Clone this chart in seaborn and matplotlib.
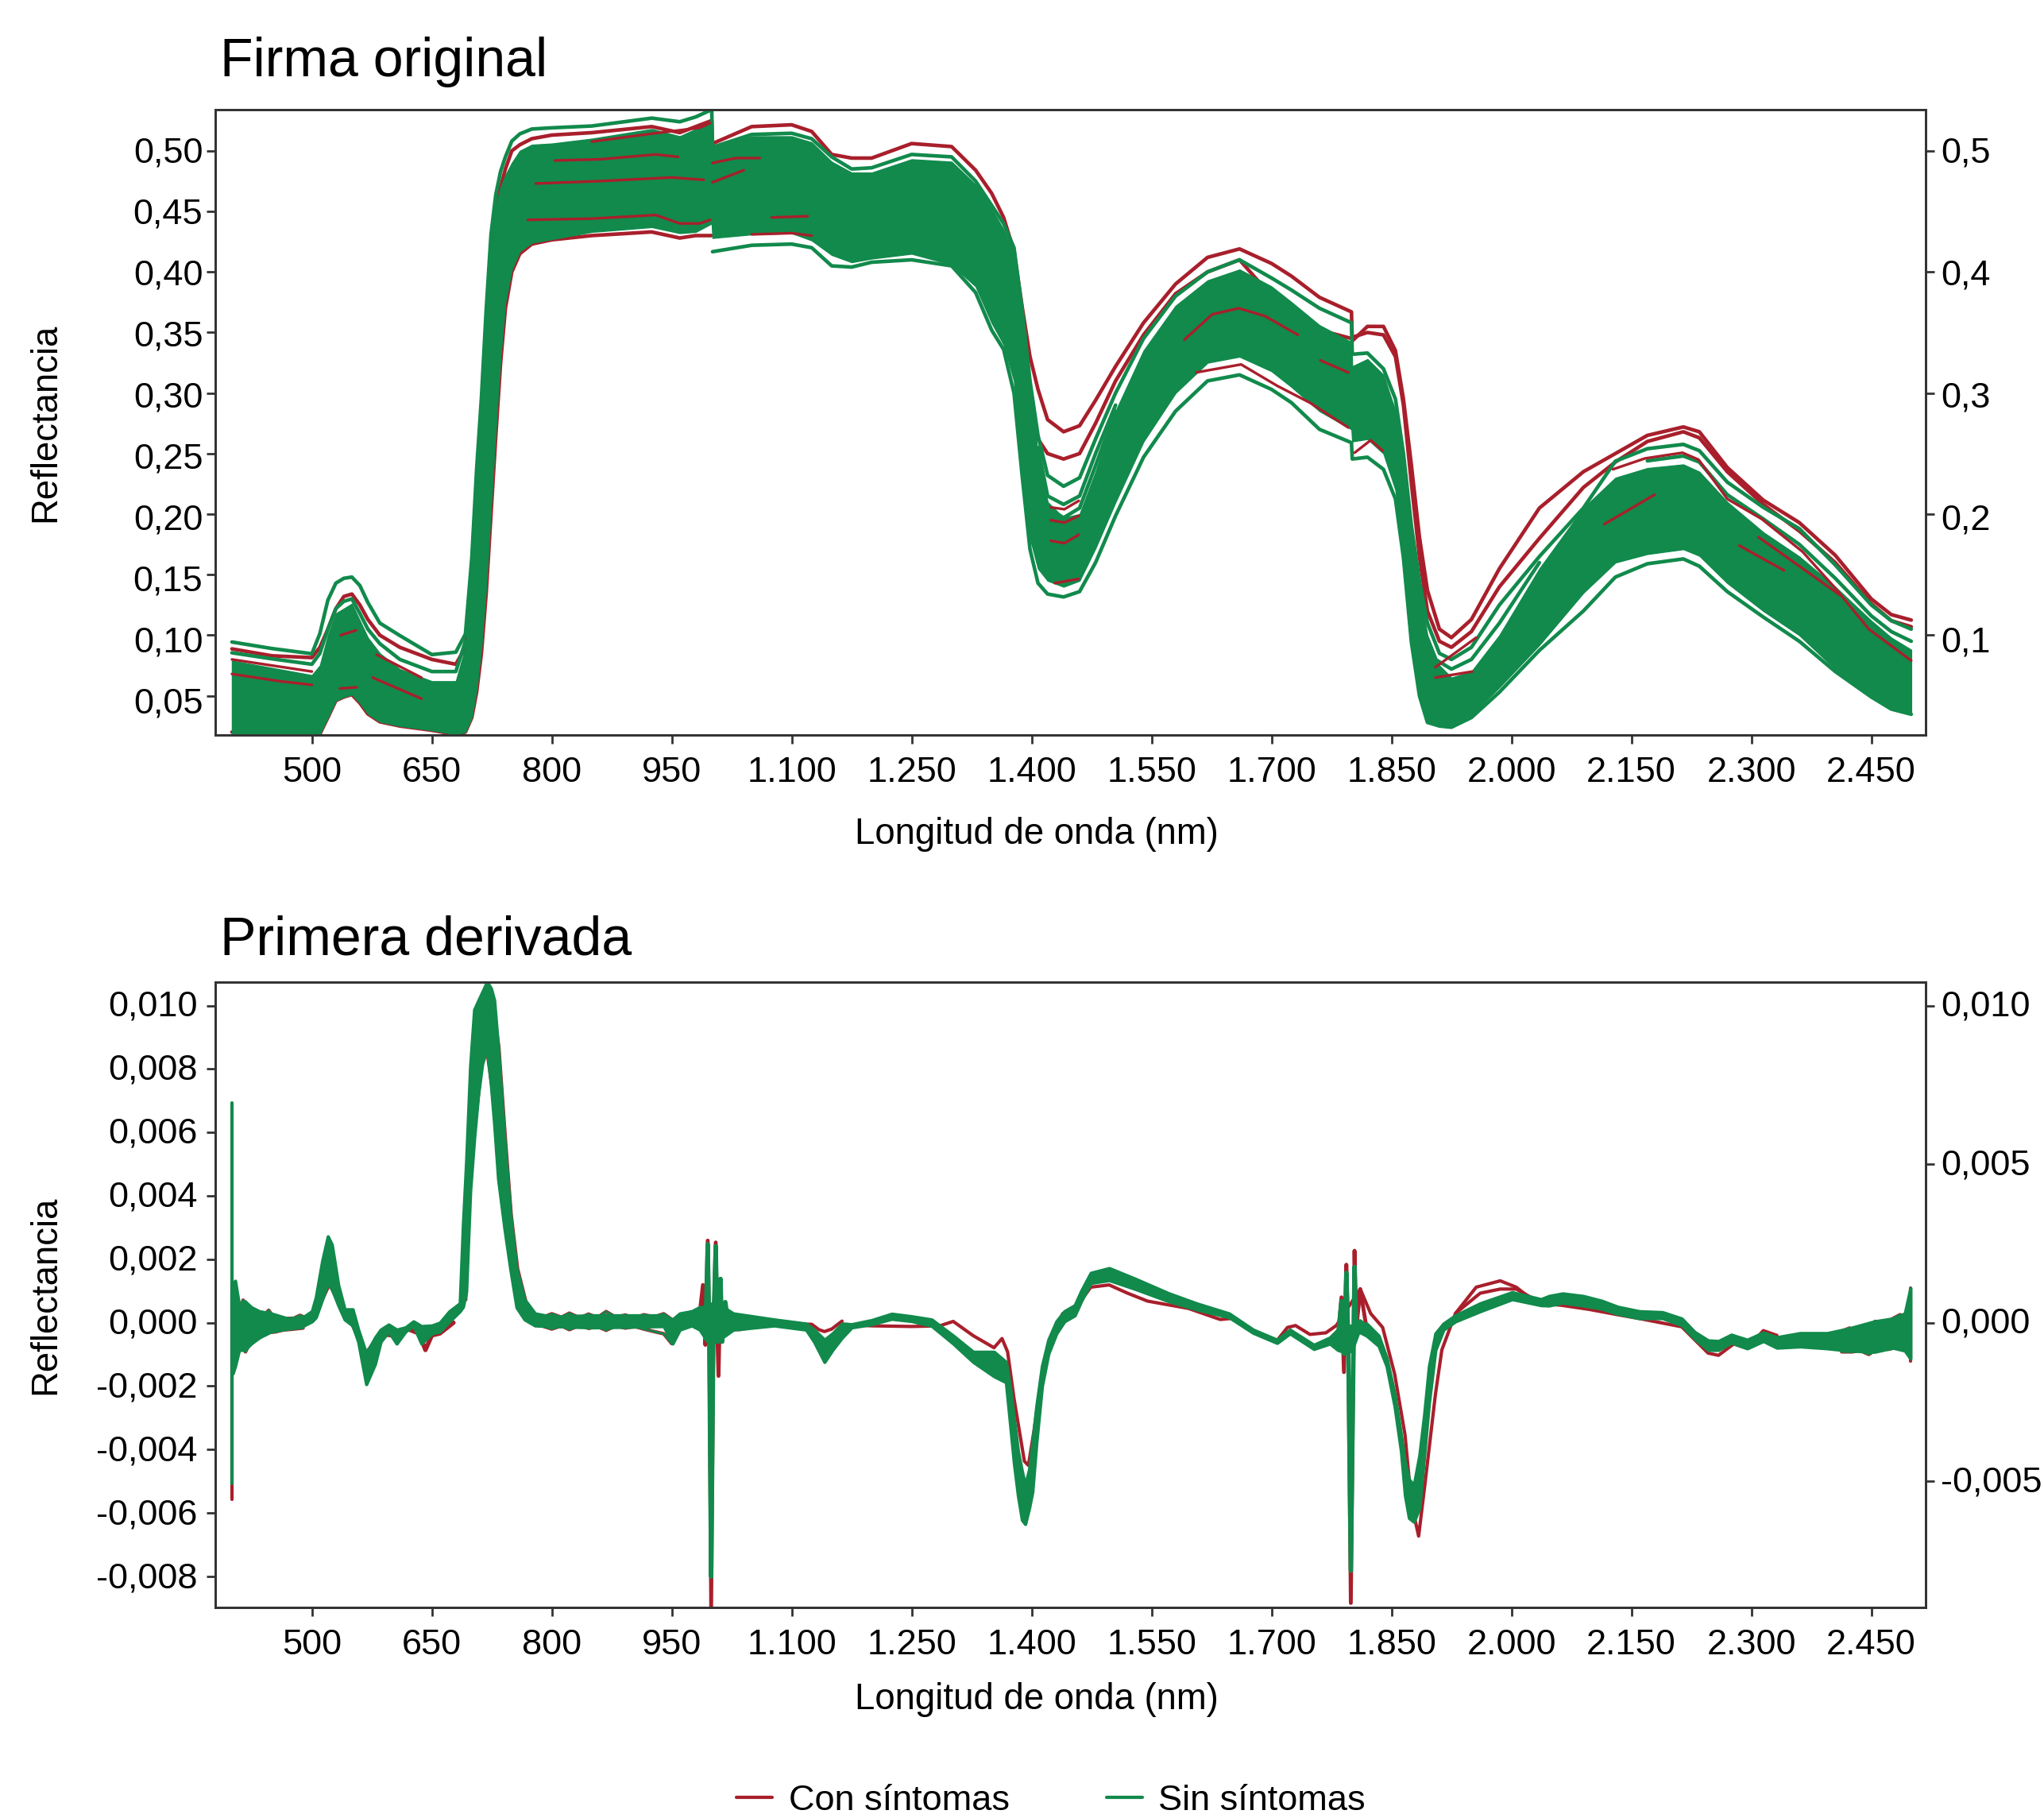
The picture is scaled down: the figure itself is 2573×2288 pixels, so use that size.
# spectral signatures, original and first derivative
import matplotlib
matplotlib.use("Agg")
import matplotlib.pyplot as plt
from matplotlib.lines import Line2D
from matplotlib.transforms import ScaledTranslation
import seaborn as sns

sns.set_theme(style="white")
plt.rcParams["font.family"] = ["Liberation Sans", "DejaVu Sans"]

RED = "#A81F2B"
GREEN = "#118A4C"

X_TICKS = [500, 650, 800, 950, 1100, 1250, 1400, 1550, 1700, 1850, 2000, 2150, 2300, 2450]
X_LABELS = ["500", "650", "800", "950", "1.100", "1.250", "1.400", "1.550", "1.700", "1.850",
            "2.000", "2.150", "2.300", "2.450"]
TOP_TICKS = [0.05, 0.10, 0.15, 0.20, 0.25, 0.30, 0.35, 0.40, 0.45, 0.50]
TOP_LABELS = ["0,05", "0,10", "0,15", "0,20", "0,25", "0,30", "0,35", "0,40", "0,45", "0,50"]
TOP_RIGHT_TICKS = [0.1, 0.2, 0.3, 0.4, 0.5]
TOP_RIGHT_LABELS = ["0,1", "0,2", "0,3", "0,4", "0,5"]
BOT_TICKS = [-0.008, -0.006, -0.004, -0.002, 0, 0.002, 0.004, 0.006, 0.008, 0.010]
BOT_LABELS = ["-0,008", "-0,006", "-0,004", "-0,002", "0,000", "0,002", "0,004", "0,006", "0,008", "0,010"]
BOT_RIGHT_TICKS = [-0.005, 0, 0.005, 0.010]
BOT_RIGHT_LABELS = ["-0,005", "0,000", "0,005", "0,010"]

# --- original signature ---
WL = [400, 450, 500, 510, 520, 530, 540, 550, 560, 570,
      585, 610, 650, 680, 692, 700, 706, 712, 718, 724,
      730, 736, 742, 750, 760, 775, 800, 850, 925, 960,
      980, 1000, 1001, 1050, 1100, 1125, 1150, 1175, 1200, 1250,
      1300, 1330, 1350, 1365, 1378, 1388, 1398, 1408, 1420, 1440,
      1460, 1480, 1505, 1540, 1580, 1620, 1660, 1700, 1725, 1760,
      1800, 1801, 1820, 1840, 1855, 1865, 1875, 1885, 1895, 1910,
      1925, 1950, 1985, 2035, 2090, 2130, 2170, 2215, 2235, 2270,
      2315, 2360, 2405, 2450, 2475, 2500]
BAND_LOW = [.018, .018, .018, .0185, .032, .046, .049, .051, .044, .035,
            .0285, .025, .0215, .018, .02, .032, .055, .09, .14, .205,
            .27, .33, .375, .402, .417, .424, .427, .433, .437, .432,
            .433, .44, .428, .431, .432, .426, .414, .408, .411, .415,
            .406, .388, .358, .34, .31, .24, .18, .155, .145, .14,
            .145, .172, .21, .26, .30, .325, .33, .318, .305, .285,
            .27, .26, .262, .25, .22, .17, .10, .055, .03, .026,
            .026, .034, .057, .092, .135, .16, .167, .171, .1656, .143,
            .12, .10, .072, .05, .04, .035]
BAND_HIGH = [.079, .073, .067, .075, .10, .118, .122, .126, .112, .098,
             .085, .072, .062, .062, .09, .155, .22, .28, .35, .42,
             .455, .47, .48, .49, .50, .505, .506, .51, .518, .512,
             .518, .525, .503, .512, .512, .507, .491, .482, .482, .493,
             .491, .472, .452, .435, .415, .36, .30, .25, .21, .197,
             .20, .235, .285, .335, .372, .393, .402, .388, .375, .356,
             .342, .322, .328, .315, .285, .245, .18, .135, .10, .075,
             .065, .07, .10, .155, .205, .23, .238, .241, .235, .21,
             .185, .165, .14, .112, .098, .088]
G_TOP = [.0944, .089, .0847, .1014, .129, .143, .147, .148, .141, .127,
         .11, .0997, .084, .086, .101, .164, .237, .296, .369, .431,
         .464, .483, .495, .508, .514, .518, .519, .5205, .527, .524,
         .528, .534, .503, .5135, .5145, .51, .495, .485, .486, .497,
         .495, .475, .455, .44, .42, .37, .31, .265, .232, .223,
         .23, .262, .30, .345, .38, .40, .41, .395, .385, .37,
         .358, .332, .333, .32, .295, .25, .19, .145, .11, .085,
         .08, .09, .125, .165, .205, .2437, .254, .2576, .2524, .2264,
         .2056, .188, .158, .125, .112, .105]
R_TOP = [.0887, .083, .0815, .09, .105, .122, .132, .134, .125, .113,
         .10, .09, .08, .076, .09, .15, .21, .27, .34, .40,
         .45, .47, .485, .50, .505, .51, .513, .515, .52, .515,
         .52, .525, .506, .52, .5215, .516, .497, .494, .494, .506,
         .5035, .484, .465, .445, .417, .372, .33, .303, .278, .268,
         .273, .294, .322, .358, .39, .412, .419, .407, .3965, .379,
         .367, .343, .355, .355, .335, .295, .24, .181, .137, .105,
         .098, .113, .155, .205, .235, .25, .265, .272, .268, .2385,
         .2115, .193, .166, .13, .117, .1125]
# these three only cover part of WL
R_LOW = [.02, .019, .018, .0185, .032, .046, .049, .051, .044, .035,
         .0285, .025, .0215, .018, .02, .032, .053, .085, .135, .20,
         .265, .325, .37, .40, .415, .423, .4265, .43, .433, .428,
         .43, .43]
G_LOW = [.4167, .422, .423, .42, .405, .404, .408, .41,
         .405, .383, .352, .336, .30, .233, .171, .143, .134, .1316,
         .136, .16, .1986, .247, .285, .31, .315, .303, .292, .27,
         .259, .2455, .247, .237, .2125, .164, .094, .05, .028, .025,
         .024, .032, .053, .0875, .12, .148, .159, .163, .157, .136,
         .115, .095, .07, .049, .039, .0347]
R_SECOND = [.405, .35, .295, .262, .25, .2455,
            .25, .275, .31, .348, .382, .40, .41, .38, .37, .352,
            .345, .346, .35, .348, .33, .29, .225, .165, .12, .095,
            .09, .103, .14, .18, .222, .243, .26, .268, .263, .235,
            .208, .186, .16, .126, .112, .107]

# extra green lines that sit between the outliers and the dense bundle
STRIPE_WL = [[400, 450, 500, 510, 520, 530, 540, 550, 560, 570, 585, 610, 650, 680, 692],
             [1408, 1420, 1440, 1460, 1480, 1505],
             [1408, 1420, 1440, 1460, 1480, 1505],
             [1905, 1925, 1950, 1985, 2035],
             [2170, 2215, 2235, 2270, 2315, 2360, 2405, 2450, 2475, 2500]]
STRIPE_VAL = [[.0855, .0805, .076, .085, .105, .122, .128, .13, .118, .105, .093, .08, .07, .07, .095],
              [.255, .215, .208, .215, .25, .29],
              [.245, .205, .197, .205, .24, .285],
              [.08, .072, .08, .11, .16],
              [.244, .248, .243, .216, .196, .175, .147, .116, .103, .095]]

# red lines that show through the green bundle
STREAK_WL = [[804, 860, 930, 958], [850, 930, 985, 998], [780, 860, 950, 990],
             [770, 850, 930, 960, 985, 998], [1001, 1030, 1060], [1001, 1040],
             [1075, 1120], [1050, 1100, 1125], [400, 460, 500], [400, 450, 500], [535, 556],
             [536, 555], [581, 637], [576, 637], [1424, 1441, 1459],
             [1424, 1441, 1459], [1424, 1441, 1459], [1429, 1459],
             [1591, 1626, 1659, 1692, 1733], [1761, 1796],
             [1606, 1662, 1707, 1748, 1796], [1804, 1824, 1839], [1905, 1956],
             [1905, 1951], [2116, 2179], [2285, 2341], [2309, 2412],
             [2127, 2167, 2214, 2234, 2270, 2313, 2364, 2404, 2447, 2500]]
STREAK_VAL = [[.492, .493, .497, .495], [.5076, .5146, .519, .523], [.473, .475, .478, .476],
              [.443, .444, .447, .44, .44, .443], [.49, .494, .494], [.474, .484],
              [.445, .446], [.431, .432, .43], [.068, .062, .059], [.08, .075, .07], [.056, .057],
              [.10, .104], [.084, .065], [.065, .0476], [.178, .176, .183],
              [.195, .193, .1986], [.2056, .204, .211], [.143, .1465],
              [.344, .365, .37, .3635, .348], [.327, .317],
              [.317, .3236, .306, .292, .2715], [.2507, .261, .2524], [.0736, .098],
              [.065, .07], [.1917, .216], [.174, .1535], [.181, .1326],
              [.237, .246, .2507, .245, .2125, .196, .169, .1396, .105, .079]]

# --- first derivative ---
D_WL = [401, 404, 409, 416, 424, 434, 449, 470, 490, 500,
        505, 513, 520, 525, 533, 541, 551, 558, 568, 579,
        586, 596, 606, 617, 627, 637, 650, 660, 672, 685,
        689, 693, 698, 703, 708, 713, 719, 724, 728, 733,
        741, 748, 756, 766, 779, 800, 850, 900, 940, 951,
        960, 975, 985, 995, 1005, 1017, 1027, 1078, 1118, 1128,
        1141, 1151, 1163, 1175, 1200, 1225, 1250, 1275, 1302, 1327,
        1353, 1368, 1373, 1378, 1383, 1388, 1392, 1397, 1401, 1406,
        1413, 1421, 1431, 1441, 1454, 1462, 1474, 1497, 1530, 1571,
        1606, 1647, 1677, 1707, 1723, 1753, 1773, 1783, 1790, 1800,
        1809, 1819, 1834, 1844, 1854, 1862, 1867, 1872, 1878, 1885,
        1891, 1897, 1905, 1915, 1930, 1961, 2001, 2037, 2047, 2064,
        2090, 2113, 2133, 2160, 2189, 2213, 2229, 2246, 2259, 2275,
        2295, 2315, 2332, 2361, 2395, 2421, 2454, 2477, 2492, 2499]
D_HIGH = [.0012, .00132, .00055, .00068, .00049, .00036, .00029, .00013, .00019, .00036,
          .0008, .00195, .00272, .00246, .00119, .00042, .00042, -.00022, -.00098, -.00047,
          -.00022, -.00006, -.00022, -.00015, .00004, -.00011, -.00009, 0, .00036, .00061,
          .0031, .00507, .00808, .00987, .01015, .01042, .01075, .01054, .01017, .00866,
          .00574, .00348, .00169, .00073, .00029, .00019, .00023, .00023, .00023, .0001,
          .00029, .00036, .00049, .0005, .0007, .00045, .00029, .0001, -.00003, -.00022,
          -.00054, -.00034, -.00003, -.00005, .00008, .00028, .0002, .0001, -.00041, -.00092,
          -.00092, -.00124, -.002, -.00303, -.00405, -.00469, -.00513, -.00462, -.00379, -.00264,
          -.00137, -.00054, .00004, .00036, .00055, .001, .00157, .00172, .00138, .00093,
          .00061, .00029, -.00022, -.00054, -.00022, -.0007, -.00047, -.00022, -.00009, -.0001,
          -.00003, -.00003, -.00041, -.00111, -.00226, -.00354, -.00443, -.00494, -.00513, -.00418,
          -.0029, -.00137, -.00034, -.00003, .00023, .00061, .00096, .00074, .00084, .00092,
          .00084, .00069, .0005, .00036, .00033, .00013, -.00029, -.00056, -.00058, -.00038,
          -.00054, -.00031, -.00046, -.00033, -.00033, -.00019, .00004, .00013, .00029, .00109]
D_LOW = [-.0016, -.00137, -.00086, -.00086, -.00066, -.00047, -.00028, -.00019, -.00009, .00004,
         .00017, .00074, .00125, .00106, .00055, .0001, -.00009, -.0006, -.00194, -.0013,
         -.0006, -.00028, -.00066, -.00028, -.00009, -.00066, -.00034, -.00028, .00004, .00036,
         .0005, .00098, .00415, .00582, .0072, .00816, .00866, .00749, .00629, .00453,
         .00295, .00173, .00048, .0001, -.00009, -.00011, -.00015, -.00013, -.00011, -.00066,
         -.00022, -.00009, -.00022, -.0006, -.0006, -.0004, -.00022, -.00009, -.00022, -.0006,
         -.00124, -.00086, -.00047, -.00015, -.00005, .00012, .00005, -.0001, -.00066, -.00124,
         -.00169, -.00188, -.00315, -.00443, -.00545, -.00622, -.00635, -.00584, -.00533, -.00379,
         -.002, -.00098, -.00034, .00004, .00023, .00068, .00125, .00134, .00106, .00068,
         .00042, .00017, -.00032, -.00064, -.00034, -.00083, -.00066, -.00086, -.00092, -.0009,
         -.00028, -.00041, -.00073, -.00137, -.00264, -.00405, -.00545, -.00616, -.00628, -.00584,
         -.00418, -.00252, -.00086, -.00022, .00004, .00036, .00074, .00055, .00054, .00063,
         .00054, .00044, .00028, .00014, .00014, -.00008, -.0005, -.00086, -.00086, -.00063,
         -.00081, -.00058, -.00079, -.00075, -.00081, -.00088, -.00092, -.00079, -.00088, -.00113]

R_DEEP_WL = [1163, 1200, 1250, 1285, 1302, 1327, 1353, 1363, 1370, 1378, 1391, 1396, 1403, 1413, 1424, 1439, 1454,
             1474, 1497, 1520, 1545, 1596, 1636, 1652, 1682, 1707, 1720, 1730, 1748, 1768, 1781,
             1811, 1824, 1839, 1854, 1867, 1875, 1884, 1892, 1905, 1913, 1930, 1956, 1986, 2006,
             2032, 2062, 2097, 2133, 2160, 2213, 2246, 2259, 2278, 2295, 2315, 2332]
R_DEEP = [-.00005, -.0001, -.00012, -.0001, .00004, -.00041, -.00079, -.0005, -.00092, -.00239, -.00437, -.0045,
          -.00341, -.00162, -.00047, .00029, .00042, .00112, .00119, .00093, .00068, .00045, .0001, .00014, -.00034,
          -.00056, -.00015, -.00009, -.00037, -.00032, -.00009, .00106, .00029, -.00015, -.00162,
          -.00354, -.00571, -.00673, -.00507, -.00226, -.00086, .00029, .00112, .00132, .00112,
          .00061, .00055, .00042, .00025, .00013, -.00013, -.00096, -.00103, -.00067, -.00081,
          -.00025, -.0004]
R_SHOULDER_WL = [1930, 1961, 1986, 2006, 2030]
R_SHOULDER = [.00029, .00093, .00106, .00106, .00072]
R_PEAK_IN_WL = [692.8, 697.7, 704, 712.6, 717.6, 724.5, 729, 734, 742, 749]
R_PEAK_IN = [.00072, .00407, .00615, .00808, .00875, .0075, .0063, .0045, .0029, .0017]
R_PEAK_OUT_WL = [731, 734.5, 743, 750, 758, 768]
R_PEAK_OUT = [.0093, .0087, .0057, .0034, .0017, .0007]
R_BUMP_WL = [500, 510, 522, 530, 543, 551, 568, 586, 600, 620, 634, 642, 650, 660, 677]
R_BUMP = [.0001, .0006, .00125, .00085, .00029, -.00006, -.00098, -.00035, -.0004, -.0002,
          -.00034, -.00086, -.0004, -.00034, 0]
R_FLAT_WL = [1020, 1035, 1050, 1065, 1090, 1125, 1134, 1141, 1150, 1163]
R_FLAT = [-.0002, -.00022, -.00015, -.0001, -.00005, -.00005, -.00022, -.00028, -.0002, .00005]

# jagged edges of the noisy stretches
NOISE_WL = [[406, 408.7, 411, 414, 416.6, 420.6, 423, 427, 431, 435, 441, 446, 451, 458, 468, 477.5, 485, 491],
            [404, 408, 413, 417, 421, 428, 433, 439.5, 446, 454.4, 464.3, 474, 481, 489],
            [790, 800, 812, 822, 835, 846, 857, 868, 880, 892, 904, 915, 928, 940, 950],
            [790, 800, 812, 822, 835, 846, 857, 868, 880, 892, 904, 915, 928, 940, 950],
            [2411, 2423, 2428, 2441, 2448, 2455, 2459, 2468, 2477, 2486, 2491],
            [2413, 2426, 2436, 2447, 2454, 2464, 2471, 2487, 2492]]
NOISE_VAL = [[.0005, .00063, .00046, .00071, .00042, .00046, .0005, .00038, .00038, .00025, .00025, .00039,
              .00021, .00015, .00013, .00014, .00023, .00017],
             [-.00104, -.00079, -.00079, -.00092, -.00071, -.00058, -.0005, -.00036, -.00031, -.00029,
              -.00023, -.00021, -.00019, -.00017],
             [.00018, .00028, .00017, .0003, .00015, .00027, .00016, .00035, .00017, .00024, .00014, .00025,
              .00018, .00028, .0001],
             [-.00012, -.0002, -.0001, -.00022, -.00008, -.00018, -.00012, -.00024, -.0001, -.00017, -.00012,
              -.0002, -.00028, -.00035, -.00066],
             [-.00029, -.00017, -.00029, -.00025, -.00013, .00004, -.00003, 0, .00013, .00025, .00021],
             [-.00092, -.00092, -.00088, -.001, -.00088, -.00079, -.00084, -.00075, -.00084]]

SPIKE_A_WL = [985, 989, 992, 995, 997, 999.3, 1002, 1005, 1007, 1008.5, 1011, 1013, 1017, 1022]
SPIKE_A_RED = [.0003, .00119, -.0007, .00259, -.0006, -.00897, -.0004, .00253, -.0003, -.00168,
               .00138, -.0006, .0006, -.0003]
SPIKE_A_GREEN = [.00019, .0004, -.0005, .00247, -.0006, -.00801, -.0004, .00241, -.0003, -.0006,
                 .00138, -.0006, .00065, -.0003]
SPIKE_B_WL = [1783, 1787.5, 1790.6, 1793.6, 1796, 1799.2, 1803.8, 1806, 1811, 1819]
SPIKE_B_RED = [-.0005, .0008, -.00156, .00183, -.0006, -.00884, .00227, -.00022, .00106, -.0002]
SPIKE_B_GREEN = [-.0005, .00068, -.00098, .00157, -.0006, -.00782, .00176, -.00022, .00004, -.00015]
EDGE_WL = [400, 400]
EDGE_RED = [.0012, -.00558]
EDGE_GREEN = [.00693, -.00507]
END_WL = [2499, 2499]
END_RED = [.0011, -.00121]


def draw_line(ax, wl, vals, color, lw, z):
    sns.lineplot(x=wl, y=vals, ax=ax, color=color, linewidth=lw, estimator=None,
                 sort=False, zorder=z, legend=False)


def shift_labels(axis, top_px, bottom_px):
    # the printed labels do not sit exactly on their ticks
    labels = axis.get_ticklabels()
    n = len(labels) - 1
    for i, label in enumerate(labels):
        dy = bottom_px + (top_px - bottom_px) * i / n
        label.set_transform(label.get_transform() + ScaledTranslation(0, -dy / 100, fig.dpi_scale_trans))


def finish_axes(ax, ylim, ticks, labels, right_ticks, right_labels, label_y, left_shift, right_shift, left_pad):
    ax.set_xlim(379.2, 2518)
    ax.set_ylim(*ylim)
    ax.set_xticks(X_TICKS)
    ax.set_xticklabels(X_LABELS)
    ax.set_yticks(ticks)
    ax.set_yticklabels(labels)
    ax.set_xlabel("Longitud de onda (nm)", fontsize=32.8, va="center", color="black")
    ax.xaxis.set_label_coords(0.48, label_y)
    ax.set_ylabel("Reflectancia", fontsize=32.8, va="center", color="black")
    ax.yaxis.set_label_coords(-0.0994, 0.5)
    ax.tick_params(axis="x", labelsize=32.5, length=8, width=2, color="#333333",
                   labelcolor="black", pad=11.5, bottom=True)
    ax.tick_params(axis="y", labelsize=32.5, length=8, width=2, color="#333333",
                   labelcolor="black", pad=left_pad, left=True)
    right = ax.twinx()
    right.set_ylim(*ylim)
    right.set_yticks(right_ticks)
    right.set_yticklabels(right_labels)
    right.tick_params(axis="y", labelsize=32.5, length=8, width=2, color="#333333",
                      labelcolor="black", pad=5.6, right=True)
    shift_labels(ax.yaxis, *left_shift)
    shift_labels(right.yaxis, *right_shift)
    for a in (ax, right):
        for side in a.spines.values():
            side.set_color("#333333")
            side.set_linewidth(2)


W, H = 2573, 2288
fig = plt.figure(figsize=(W / 100, H / 100), dpi=100, facecolor="white")
ax_top = fig.add_axes([271 / W, 1 - 925 / H, 2153 / W, 787 / H])
ax_bot = fig.add_axes([271 / W, 1 - 2023 / H, 2153 / W, 787 / H])

# Top panel
draw_line(ax_top, WL, R_TOP, RED, 3.3, 2)
draw_line(ax_top, WL[:32], R_LOW, RED, 3.3, 2)
draw_line(ax_top, WL[44:], R_SECOND, RED, 3.3, 2)
ax_top.fill_between(WL, BAND_LOW, BAND_HIGH, color=GREEN, linewidth=1, zorder=3)
draw_line(ax_top, WL, G_TOP, GREEN, 3.3, 4)
draw_line(ax_top, WL[32:], G_LOW, GREEN, 3.3, 4)
for wl, vals in zip(STRIPE_WL, STRIPE_VAL):
    draw_line(ax_top, wl, vals, GREEN, 3.3, 4)
for wl, vals in zip(STREAK_WL, STREAK_VAL):
    draw_line(ax_top, wl, vals, RED, 2.4, 5)

# Bottom panel
draw_line(ax_bot, R_DEEP_WL, R_DEEP, RED, 3, 2)
draw_line(ax_bot, R_SHOULDER_WL, R_SHOULDER, RED, 3, 2)
draw_line(ax_bot, R_PEAK_IN_WL, R_PEAK_IN, RED, 2.5, 2)
draw_line(ax_bot, R_PEAK_OUT_WL, R_PEAK_OUT, RED, 2, 2)
draw_line(ax_bot, R_BUMP_WL, R_BUMP, RED, 4, 2)
draw_line(ax_bot, R_FLAT_WL, R_FLAT, RED, 3, 2)
draw_line(ax_bot, SPIKE_A_WL, SPIKE_A_RED, RED, 3.5, 2)
draw_line(ax_bot, SPIKE_B_WL, SPIKE_B_RED, RED, 3.5, 2)
draw_line(ax_bot, EDGE_WL, EDGE_RED, RED, 3, 2)
draw_line(ax_bot, END_WL, END_RED, RED, 3, 2)
for wl, vals in zip(NOISE_WL, NOISE_VAL):
    draw_line(ax_bot, wl, vals, RED, 3.2, 2)
ax_bot.fill_between(D_WL, D_LOW, D_HIGH, color=GREEN, linewidth=3, zorder=3)
for wl, vals in zip(NOISE_WL, NOISE_VAL):
    draw_line(ax_bot, wl, vals, GREEN, 2, 4)
draw_line(ax_bot, SPIKE_A_WL, SPIKE_A_GREEN, GREEN, 4, 4)
draw_line(ax_bot, SPIKE_B_WL, SPIKE_B_GREEN, GREEN, 4, 4)
draw_line(ax_bot, EDGE_WL, EDGE_GREEN, GREEN, 3, 4)

finish_axes(ax_top, (0.0176, 0.534), TOP_TICKS, TOP_LABELS, TOP_RIGHT_TICKS, TOP_RIGHT_LABELS,
            -0.159, (-1.6, 5.6), (-1.6, 4.9), 3.3)
finish_axes(ax_bot, (-0.00898, 0.01074), BOT_TICKS, BOT_LABELS, BOT_RIGHT_TICKS, BOT_RIGHT_LABELS,
            -0.148, (-3.3, -1.6), (-3, -3), 8)

ax_top.set_title("Firma original", loc="left", x=0.003, fontsize=49, pad=30, color="black")
ax_bot.set_title("Primera derivada", loc="left", x=0.003, fontsize=49, pad=25, color="black")

handles = [Line2D([], [], color=RED, lw=3), Line2D([], [], color=GREEN, lw=3)]
fig.legend(handles, ["Con síntomas", "Sin síntomas"], ncol=2, frameon=False, fontsize=32.5,
           loc="center", bbox_to_anchor=(1323 / W, 1 - 2266 / H), handlelength=1.0,
           handletextpad=0.45, columnspacing=2.7, labelcolor="black")

fig.savefig("out.png", dpi=100)
